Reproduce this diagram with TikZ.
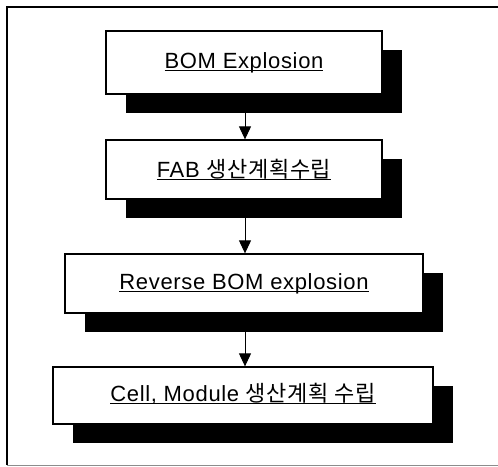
\documentclass[tikz,border=0pt]{standalone}
\usepackage{fontspec}
\setmainfont[LetterSpace=3]{Liberation Sans}
\newfontfamily\krfont[LetterSpace=3]{Noto Sans CJK KR}
\usetikzlibrary{arrows.meta,shadows}
\newcommand\myul[1]{\setbox0=\hbox{#1}\rlap{\rule[-2.8pt]{\wd0}{1.3pt}}\box0}
\begin{document}
\begin{tikzpicture}[x=1pt,y=-1pt,
  procbox/.style={draw=black, line width=1.3pt, fill=white, inner sep=0pt,
    font=\fontsize{22}{26}\selectfont,
    drop shadow={shadow xshift=20pt, shadow yshift=-19pt, fill=black, opacity=1}},
  flow/.style={-{Triangle[length=13pt,width=12pt]}, line width=1pt}]
\useasboundingbox (0,0) rectangle (498,466);
% frame
\draw[line width=2pt] (498,6.5) -- (6.5,6.5) -- (6.5,465);
\draw[line width=1pt, black!45] (6.5,465) -- (498,465);
% boxes
\node[procbox, minimum width=276pt, minimum height=63pt] (b1) at (244,62.5)
  {\myul{BOM Explosion}};
\node[procbox, minimum width=276pt, minimum height=59pt] (b2) at (244,169.5)
  {\myul{FAB {\krfont 생산계획수립}}};
\node[procbox, minimum width=358pt, minimum height=59pt] (b3) at (244,283.5)
  {\myul{Reverse BOM explosion}};
\node[procbox, minimum width=380pt, minimum height=57pt] (b4) at (243,395.5)
  {\raisebox{7pt}{\myul{Cell, Module {\krfont 생산계획 수립}}}};
% arrows
\draw[flow] (b1.south -| 245,0) -- (b2.north -| 245,0);
\draw[flow] (b2.south -| 245,0) -- (b3.north -| 245,0);
\draw[flow] (b3.south -| 245,0) -- (b4.north -| 245,0);
\end{tikzpicture}
\end{document}
